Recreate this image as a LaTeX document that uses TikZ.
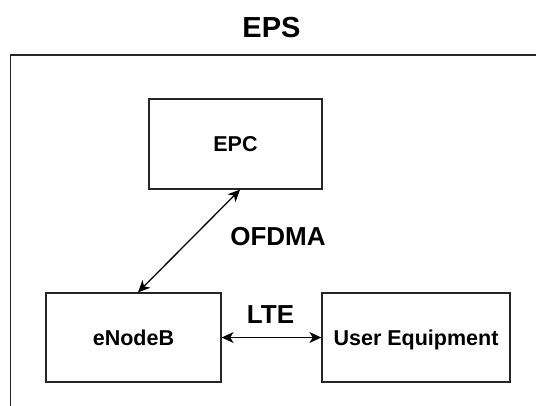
\documentclass[tikz,border=0pt]{standalone}
\usepackage{fontspec}
\setmainfont{Liberation Sans}
\usetikzlibrary{arrows.meta}
\tikzset{
  unitbox/.style={draw=black!85, line width=1.3pt, minimum width=#1, minimum height=89pt,
    inner sep=0pt, font=\bfseries\fontsize{21.5}{24}\selectfont, text height=15.4pt, text depth=0pt},
  edgelabel/.style={font=\bfseries\fontsize{26}{30}\selectfont, inner sep=0pt,
    text height=18.6pt, text depth=0pt},
  link/.style={line width=1.3pt, {Stealth[length=12pt,width=11pt,inset=3.5pt]}-{Stealth[length=12pt,width=11pt,inset=3.5pt]}}
}
\begin{document}
\begin{tikzpicture}[x=1pt,y=-1pt]
  \clip (0,0) rectangle (536,405);
  % system frame (continues past the page edge on the right and bottom)
  \draw[black!85, line width=1.8pt] (10.5,55) rectangle (560,430);
  \node[font=\bfseries\fontsize{29}{34}\selectfont, inner sep=0pt, text height=20.8pt, text depth=0pt]
    (title) at (271.5,27) {EPS};
  % components
  \node[unitbox=173pt, minimum height=90pt] (epc) at (235.5,144) {EPC};
  \node[unitbox=175pt] (enb) at (133.5,337.5) {eNodeB};
  \node[unitbox=188pt] (ue) at (416,337.5) {User Equipment};
  % interfaces
  \draw[link] ([xshift=4.5pt]epc.south) -- ([xshift=4.5pt]enb.north);
  \draw[link] (enb.east) -- (ue.west);
  \node[edgelabel] (ofdma) at (278,236) {OFDMA};
  \node[edgelabel] (lte) at (270.5,314) {LTE};
\end{tikzpicture}
\end{document}
